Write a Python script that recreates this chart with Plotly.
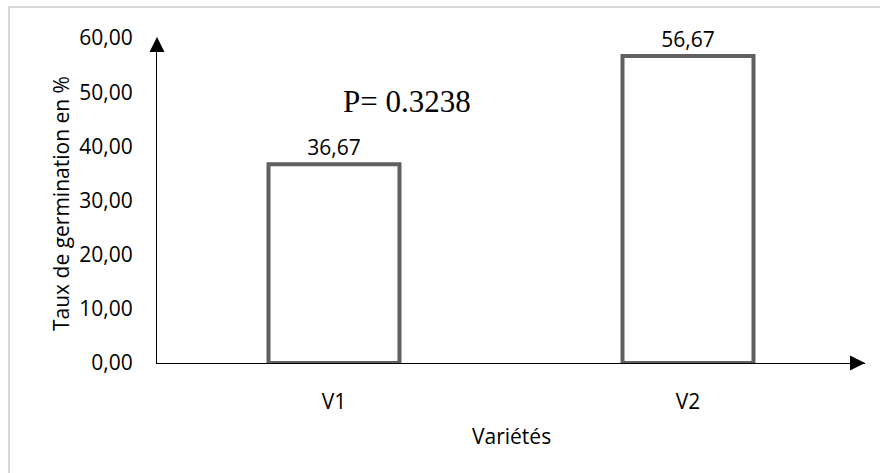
import plotly.graph_objects as go

categories = ["V1", "V2"]
taux = [36.67, 56.67]
y_ticks = [0, 10, 20, 30, 40, 50, 60]
p_text = "P= 0.3238"
x_title = "Variétés"
y_title = "Taux de germination en %"

W, H = 880, 473
L, R, T, B = 157, 15, 38, 110
pw, ph = W - L - R, H - T - B

def px_x(x):
    return (x - L) / pw

def px_y(y):
    return (H - B - y) / ph

font_main = dict(family="Open Sans, sans-serif", size=21, color="#000000")

fig = go.Figure()
fig.add_trace(go.Bar(
    x=categories, y=taux, width=0.37,
    marker=dict(color="#ffffff", line=dict(color="#606060", width=4)),
    text=taux, texttemplate="%{y:.2f}", textposition="outside",
    textfont=font_main, cliponaxis=False, hoverinfo="skip",
))

fig.update_layout(
    width=W, height=H,
    margin=dict(l=L, r=R, t=T, b=B, pad=0),
    paper_bgcolor="#ffffff", plot_bgcolor="#ffffff",
    separators=",.",
    showlegend=False,
    font=font_main,
    xaxis=dict(range=[-0.5, 1.5], showgrid=False, zeroline=False,
               showline=True, linecolor="#000000", linewidth=1,
               layer="below traces", ticks="", ticklabelstandoff=20,
               tickfont=font_main, fixedrange=True),
    yaxis=dict(range=[0, 60], tickvals=y_ticks, tickformat=".2f",
               showgrid=False, zeroline=False,
               showline=True, linecolor="#000000", linewidth=1,
               layer="below traces", ticks="", ticklabelstandoff=19,
               tickfont=font_main, fixedrange=True),
    shapes=[dict(type="rect", xref="paper", yref="paper",
                 x0=px_x(9), x1=px_x(884), y0=px_y(478), y1=px_y(7),
                 line=dict(color="#d9d9d9", width=2), layer="below")],
    annotations=[
        dict(xref="paper", yref="paper", x=0, y=px_y(37), ax=0, ay=12,
             showarrow=True, arrowhead=2, arrowsize=3, arrowwidth=1,
             arrowcolor="#000000", text=""),
        dict(xref="paper", yref="paper", x=px_x(865), y=0, ax=-12, ay=0,
             showarrow=True, arrowhead=2, arrowsize=3, arrowwidth=1,
             arrowcolor="#000000", text=""),
        dict(xref="paper", yref="paper", x=px_x(407), y=px_y(101),
             xanchor="center", yanchor="middle", showarrow=False,
             text=p_text,
             font=dict(family="Liberation Serif, Times New Roman, serif", size=31, color="#000000")),
        dict(xref="paper", yref="paper", x=px_x(511), y=px_y(436),
             xanchor="center", yanchor="middle", showarrow=False,
             text=x_title, font=font_main),
        dict(xref="paper", yref="paper", x=px_x(61), y=px_y(204),
             xanchor="center", yanchor="middle", showarrow=False,
             textangle=-90, text=y_title, font=font_main),
    ],
)

fig.write_html("out.html")
